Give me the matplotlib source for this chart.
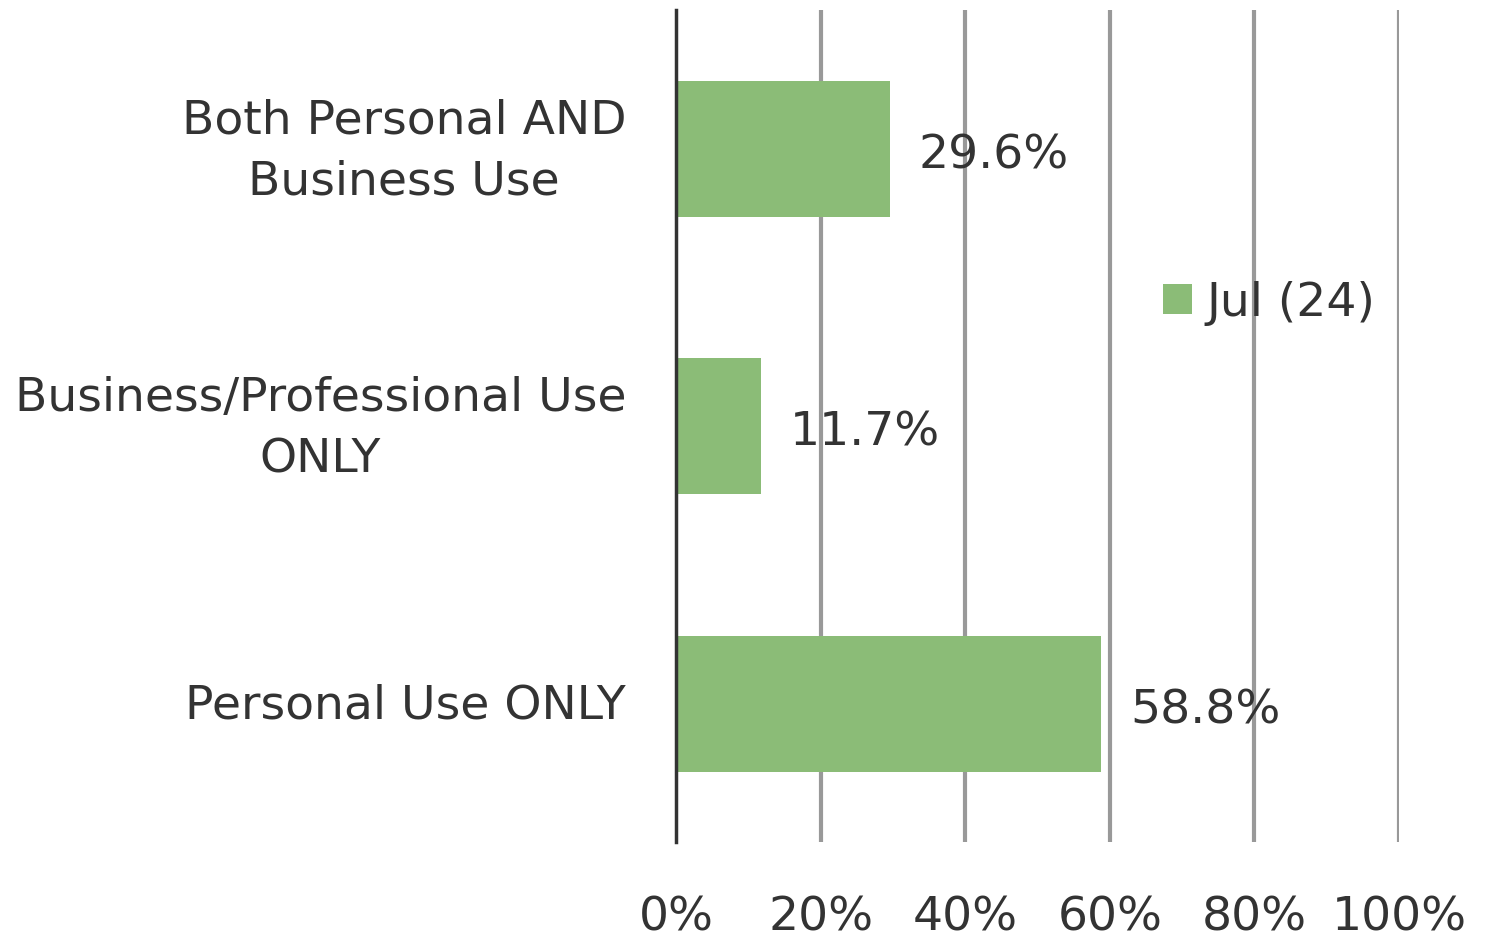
import matplotlib
matplotlib.use("Agg")
import matplotlib.pyplot as plt
import matplotlib.transforms as mtransforms
from matplotlib.patches import Patch

categories = ["Personal Use ONLY", "Business/Professional Use\nONLY", "Both Personal AND\nBusiness Use"]
values = [58.8, 11.7, 29.6]
series_name = "Jul (24)"
xticks = [0, 20, 40, 60, 80, 100]
xtick_labels = ["0%", "20%", "40%", "60%", "80%", "100%"]

text_color = "#333333"
bar_color = "#8BBC77"
fs = 34

fig = plt.figure(figsize=(14.89, 9.40), dpi=100)
ax = fig.add_axes([0.454, 0.104, 0.4856, 0.885])

ypos = list(range(len(categories)))
ax.barh(ypos, values, height=0.49, color=bar_color, zorder=3)
for y, v in zip(ypos, values):
    ax.text(v + 4, y - 0.025, f"{v:.1f}%", va="center", ha="left", fontsize=fs, color=text_color, zorder=4)

ax.set_xlim(0, 100)
ax.set_ylim(-0.5, 2.5)
ax.set_yticks(ypos)
ax.set_yticklabels(categories, fontsize=fs, color=text_color, ha="right",
                   multialignment="center", linespacing=1.45)
ax.tick_params(axis="y", length=0, pad=36)
for lab in ax.get_yticklabels():
    dy = 10 if "\n" in lab.get_text() else 3
    lab.set_transform(lab.get_transform() + mtransforms.ScaledTranslation(0, dy / 100, fig.dpi_scale_trans))
ax.set_xticks(xticks)
ax.set_xticklabels(xtick_labels, fontsize=fs, color=text_color)
ax.tick_params(axis="x", length=0, pad=38)

for x in xticks[1:]:
    ax.axvline(x, color="#999999", lw=3, zorder=1)
for s in ["top", "right", "bottom"]:
    ax.spines[s].set_visible(False)
ax.spines["left"].set_color("#333333")
ax.spines["left"].set_linewidth(2.5)
ax.spines["left"].set_zorder(5)

handles = [Patch(facecolor=bar_color, edgecolor="none", label=series_name)]
fig.legend(handles=handles, loc="center left", bbox_to_anchor=(1163 / 1489, 1 - 303 / 940),
           frameon=False, borderaxespad=0, borderpad=0,
           fontsize=fs, labelcolor=text_color, handlelength=0.62, handleheight=0.62,
           handletextpad=0.3)

fig.savefig("out.png", dpi=100)
